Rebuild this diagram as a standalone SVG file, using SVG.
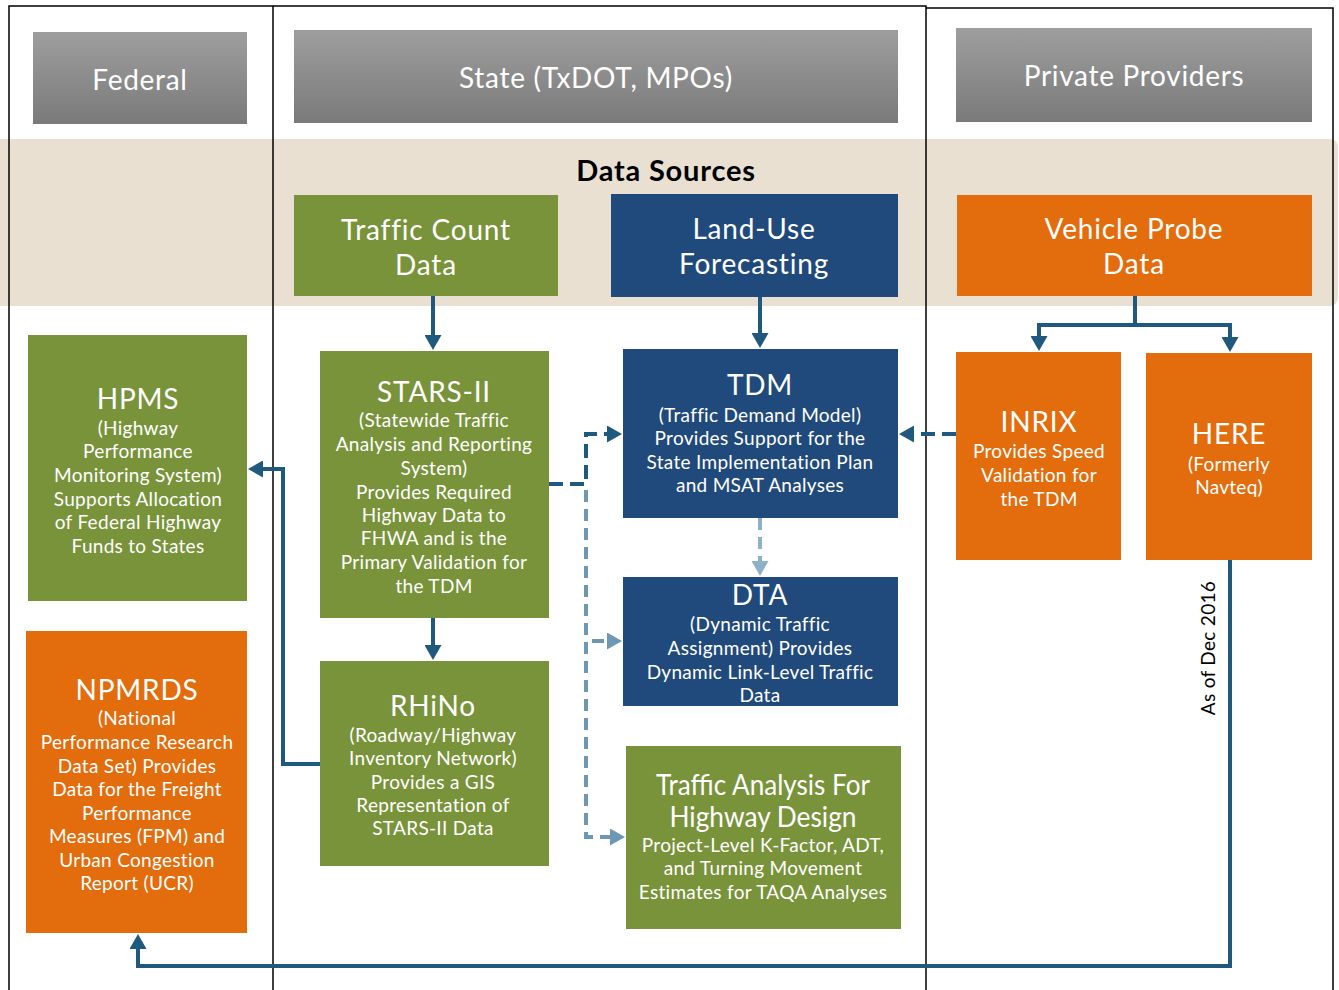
<svg xmlns="http://www.w3.org/2000/svg" width="1339" height="990" viewBox="0 0 1339 990">
<style>
text{font-family:Lato,"Open Sans","Liberation Sans",sans-serif;fill:#fff;text-anchor:middle}
.hdr{font-size:28px;letter-spacing:0.7px}
.ttl{font-size:28px;letter-spacing:0.8px}
.sub{font-size:19px;letter-spacing:0.3px}
.green{fill:#78933A}
.navy{fill:#214A7C}
.orange{fill:#E36C0C}
.frame{fill:none;stroke:#000;stroke-width:1.5}
.c{fill:none;stroke:#1F5A7E;stroke-width:4;stroke-linejoin:miter}
.cd{fill:none;stroke:#1F5A7E;stroke-width:4;stroke-dasharray:14 7}
.cl{fill:none;stroke:#6E97B4;stroke-width:4;stroke-dasharray:12 7}
.cl2{fill:none;stroke:#8FB1C8;stroke-width:4;stroke-dasharray:12 7}
</style>
<defs>
<linearGradient id="g" x1="0" y1="0" x2="0" y2="1">
<stop offset="0" stop-color="#9E9E9E"/>
<stop offset="1" stop-color="#7A7A7A"/>
</linearGradient>
<marker id="a" markerUnits="userSpaceOnUse" markerWidth="16" markerHeight="17" refX="1" refY="8.5" orient="auto" viewBox="0 0 16 17">
<path d="M0,0 L15,8.5 L0,17 z" fill="#1F5A7E"/>
</marker>
<marker id="al" markerUnits="userSpaceOnUse" markerWidth="16" markerHeight="17" refX="1" refY="8.5" orient="auto" viewBox="0 0 16 17">
<path d="M0,0 L15,8.5 L0,17 z" fill="#6E97B4"/>
</marker>
<marker id="al2" markerUnits="userSpaceOnUse" markerWidth="16" markerHeight="17" refX="1" refY="8.5" orient="auto" viewBox="0 0 16 17">
<path d="M0,0 L15,8.5 L0,17 z" fill="#8FB1C8"/>
</marker>
</defs>
<rect width="1339" height="990" fill="#fff"/>
<rect x="-10" y="139" width="1348" height="167" rx="8" fill="#EAE0D2"/>
<g id="frame">
<path class="frame" d="M9,990 V6 H273 V990"/>
<path class="frame" d="M273,6 H926 V990"/>
<path class="frame" d="M926,8 H1333 V990"/>
</g>
<g id="hdr-federal"><rect x="33" y="32" width="214" height="92" fill="url(#g)"/><text class="hdr" x="140" y="90">Federal</text></g>
<g id="hdr-state"><rect x="294" y="30" width="604" height="93" fill="url(#g)"/><text class="hdr" x="596" y="88">State (TxDOT, MPOs)</text></g>
<g id="hdr-private"><rect x="956" y="28" width="356" height="94" fill="url(#g)"/><text class="hdr" x="1134" y="86">Private Providers</text></g>
<text x="666" y="181" style="font-size:29px;font-weight:bold;fill:#000;letter-spacing:0.8px">Data Sources</text>

<g id="connectors">
<path class="c" d="M433,296 V336" marker-end="url(#a)"/>
<path class="c" d="M760,284 V334" marker-end="url(#a)"/>
<path class="c" d="M433,618 V646" marker-end="url(#a)"/>
<path class="c" d="M1135,296 V325 H1039 V337" marker-end="url(#a)"/>
<path class="c" d="M1135,325 H1230 V338" marker-end="url(#a)"/>
<path class="c" d="M1230,560 V966 H138 V948" marker-end="url(#a)"/>
<path class="c" d="M320,764 H283 V469 H262" marker-end="url(#a)"/>
<path class="cd" d="M956,434 H913" marker-end="url(#a)"/>
<path class="cd" d="M549,484 H586 V434 H608" marker-end="url(#a)"/>
<path class="cl" d="M586,490 V837 H611" marker-end="url(#al)"/>
<path class="cl" d="M592,641 H608" marker-end="url(#al)"/>
<path class="cl2" d="M760,518 V562" marker-end="url(#al2)"/>
</g>

<g id="traffic-count"><rect class="green" x="294" y="195" width="264" height="101"/>
<text class="ttl" x="426" y="240">Traffic Count</text><text class="ttl" x="426" y="275">Data</text></g>
<g id="land-use"><rect class="navy" x="611" y="194" width="287" height="103"/>
<text class="ttl" x="754" y="239">Land-Use</text><text class="ttl" x="754" y="274">Forecasting</text></g>
<g id="vehicle-probe"><rect class="orange" x="957" y="195" width="355" height="101"/>
<text class="ttl" x="1134" y="239">Vehicle Probe</text><text class="ttl" x="1134" y="274">Data</text></g>

<g id="hpms"><rect class="green" x="28" y="335" width="219" height="266"/>
<text class="ttl" x="138" y="409">HPMS</text>
<text class="sub" x="138" y="435">(Highway</text>
<text class="sub" x="138" y="458">Performance</text>
<text class="sub" x="138" y="482">Monitoring System)</text>
<text class="sub" x="138" y="506">Supports Allocation</text>
<text class="sub" x="138" y="529">of Federal Highway</text>
<text class="sub" x="138" y="553">Funds to States</text></g>

<g id="npmrds"><rect class="orange" x="26" y="631" width="221" height="302"/>
<text class="ttl" x="137" y="700">NPMRDS</text>
<text class="sub" x="137" y="725">(National</text>
<text class="sub" x="137" y="749">Performance Research</text>
<text class="sub" x="137" y="773">Data Set) Provides</text>
<text class="sub" x="137" y="796">Data for the Freight</text>
<text class="sub" x="137" y="820">Performance</text>
<text class="sub" x="137" y="843">Measures (FPM) and</text>
<text class="sub" x="137" y="867">Urban Congestion</text>
<text class="sub" x="137" y="890">Report (UCR)</text></g>

<g id="stars-ii"><rect class="green" x="320" y="351" width="229" height="267"/>
<text class="ttl" x="434" y="402">STARS-II</text>
<text class="sub" x="434" y="427">(Statewide Traffic</text>
<text class="sub" x="434" y="451">Analysis and Reporting</text>
<text class="sub" x="434" y="475">System)</text>
<text class="sub" x="434" y="499">Provides Required</text>
<text class="sub" x="434" y="522">Highway Data to</text>
<text class="sub" x="434" y="545">FHWA and is the</text>
<text class="sub" x="434" y="569">Primary Validation for</text>
<text class="sub" x="434" y="593">the TDM</text></g>

<g id="rhino"><rect class="green" x="320" y="661" width="229" height="205"/>
<text class="ttl" x="433" y="716">RHiNo</text>
<text class="sub" x="433" y="742">(Roadway/Highway</text>
<text class="sub" x="433" y="765">Inventory Network)</text>
<text class="sub" x="433" y="789">Provides a GIS</text>
<text class="sub" x="433" y="812">Representation of</text>
<text class="sub" x="433" y="835">STARS-II Data</text></g>

<g id="tdm"><rect class="navy" x="623" y="349" width="275" height="169"/>
<text class="ttl" x="760" y="395">TDM</text>
<text class="sub" x="760" y="422">(Traffic Demand Model)</text>
<text class="sub" x="760" y="445">Provides Support for the</text>
<text class="sub" x="760" y="469">State Implementation Plan</text>
<text class="sub" x="760" y="492">and MSAT Analyses</text></g>

<g id="dta"><rect class="navy" x="623" y="577" width="275" height="129"/>
<text class="ttl" x="760" y="605">DTA</text>
<text class="sub" x="760" y="631">(Dynamic Traffic</text>
<text class="sub" x="760" y="655">Assignment) Provides</text>
<text class="sub" x="760" y="679">Dynamic Link-Level Traffic</text>
<text class="sub" x="760" y="702">Data</text></g>

<g id="traffic-analysis"><rect class="green" x="626" y="746" width="275" height="183"/>
<text class="ttl" x="763" y="795" textLength="214" lengthAdjust="spacingAndGlyphs" style="letter-spacing:0">Traffic Analysis For</text>
<text class="ttl" x="763" y="827" textLength="187" lengthAdjust="spacingAndGlyphs" style="letter-spacing:0">Highway Design</text>
<text class="sub" x="763" y="852">Project-Level K-Factor, ADT,</text>
<text class="sub" x="763" y="875">and Turning Movement</text>
<text class="sub" x="763" y="899">Estimates for TAQA Analyses</text></g>

<g id="inrix"><rect class="orange" x="956" y="352" width="165" height="208"/>
<text class="ttl" x="1039" y="432">INRIX</text>
<text class="sub" x="1039" y="458">Provides Speed</text>
<text class="sub" x="1039" y="482">Validation for</text>
<text class="sub" x="1039" y="506">the TDM</text></g>

<g id="here"><rect class="orange" x="1146" y="353" width="166" height="207"/>
<text class="ttl" x="1229" y="444">HERE</text>
<text class="sub" x="1229" y="471">(Formerly</text>
<text class="sub" x="1229" y="494">Navteq)</text></g>

<text x="1215" y="648" transform="rotate(-90 1215 648)" style="font-size:19px;fill:#000;letter-spacing:0.3px">As of Dec 2016</text>
</svg>
